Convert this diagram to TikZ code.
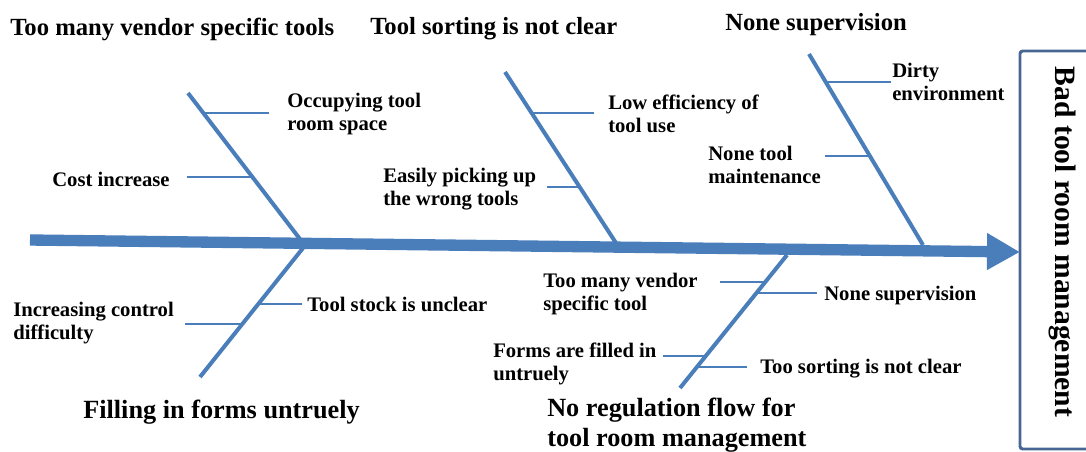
\documentclass[tikz,border=0pt]{standalone}
\usepackage{fontspec}
\setmainfont{Liberation Serif}
\usepackage{tikz}
\usetikzlibrary{arrows.meta, positioning}
\usetikzlibrary{calc}
\usepackage{xcolor}

\definecolor{fishblue}{RGB}{74,126,187}
\definecolor{boxblue}{RGB}{72,102,148}

\begin{document}
\begin{tikzpicture}[
  x=0.75pt, y=-0.75pt,
  spine/.style={draw=fishblue, line width=8.5pt, -{Triangle[length=24.75pt, width=26pt]}},
  bone/.style={draw=fishblue, line width=3pt},
  twig/.style={draw=fishblue, line width=1.4pt},
  cause/.style={font=\fontsize{15.5}{17.3}\selectfont\bfseries, align=left, inner sep=0pt, anchor=west},
  group/.style={font=\fontsize{18.5}{22}\selectfont\bfseries, align=left, inner sep=0pt, anchor=west},
  lowgroup/.style={font=\fontsize{19.7}{22.5}\selectfont\bfseries, align=left, inner sep=0pt, anchor=west},
  effect/.style={draw=boxblue, line width=2.2pt, rounded corners=2pt}
]
\useasboundingbox (0,0) rectangle (1086,451);
\clip (0,0) rectangle (1086,451);

% Spine and effect box
\coordinate (tail) at (30,240);
\coordinate (head) at (1020,252);
\coordinate (boxNW) at (1020,51);
\coordinate (boxSE) at (1110,449);
\node[font=\fontsize{22.2}{26}\selectfont\bfseries, rotate=-90, inner sep=0pt] (E) at (1062,242) {Bad tool room management};

% Bones
\coordinate (b1top) at (188,93);  \coordinate (b1end) at (303,243);
\coordinate (b2top) at (505,72);  \coordinate (b2end) at (616,243);
\coordinate (b3top) at (809,54);  \coordinate (b3end) at (923,245);
\coordinate (b4top) at (303,248); \coordinate (b4end) at (200,377);
\coordinate (b5top) at (787,255); \coordinate (b5end) at (680,388);

% Twig points on the bones
\coordinate (t1a) at ($(b1top)!0.133!(b1end)$); \coordinate (t1b) at ($(t1a)+(66,0)$);
\coordinate (t2a) at ($(b1top)!0.560!(b1end)$); \coordinate (t2b) at ($(t2a)+(-65,0)$);
\coordinate (t3a) at ($(b2top)!0.240!(b2end)$); \coordinate (t3b) at ($(t3a)+(62,0)$);
\coordinate (t4a) at ($(b2top)!0.673!(b2end)$); \coordinate (t4b) at ($(t4a)+(-33,0)$);
\coordinate (t5a) at ($(b3top)!0.147!(b3end)$); \coordinate (t5b) at ($(t5a)+(65,0)$);
\coordinate (t6a) at ($(b3top)!0.534!(b3end)$); \coordinate (t6b) at ($(t6a)+(-45,0)$);
\coordinate (t7a) at ($(b4top)!0.434!(b4end)$); \coordinate (t7b) at ($(t7a)+(44,0)$);
\coordinate (t8a) at ($(b4top)!0.589!(b4end)$); \coordinate (t8b) at ($(t8a)+(-57,0)$);
\coordinate (t9a) at ($(b5top)!0.203!(b5end)$); \coordinate (t9b) at ($(t9a)+(-45,0)$);
\coordinate (t10a) at ($(b5top)!0.286!(b5end)$); \coordinate (t10b) at ($(t10a)+(61,0)$);
\coordinate (t11a) at ($(b5top)!0.759!(b5end)$); \coordinate (t11b) at ($(t11a)+(-43,0)$);
\coordinate (t12a) at ($(b5top)!0.842!(b5end)$); \coordinate (t12b) at ($(t12a)+(50,0)$);

% Group titles
\node[group] (g1) at (10,29) {Too many vendor specific tools};
\node[group] (g2) at (370,29) {Tool sorting is not clear};
\node[group] (g3) at (725,25) {None supervision};
\node[lowgroup] (g4) at (83,412) {Filling in forms untruely};
\node[lowgroup] (g5) at (547,425) {No regulation flow for\\tool room management};

% Causes
\node[cause] (occ) at (287,114) {Occupying tool\\room space};
\node[cause] (cost) at (52,179) {Cost increase};
\node[cause] (loweff) at (608,114) {Low efficiency of\\tool use};
\node[cause] (easily) at (383,189) {Easily picking up\\the wrong tools};
\node[cause] (dirty) at (892,82) {Dirty\\environment};
\node[cause] (nonetool) at (708,165) {None tool\\maintenance};
\node[cause] (stock) at (307,304) {Tool stock is unclear};
\node[cause] (incr) at (13,323) {Increasing control\\difficulty};
\node[cause] (vendor) at (543,294) {Too many vendor\\specific tool};
\node[cause] (nsup) at (824,296) {None supervision};
\node[cause] (forms) at (493,364) {Forms are filled in\\untruely};
\node[cause] (sorting) at (760,369) {Too sorting is not clear};

% Connections
\draw[effect] (boxNW) rectangle (boxSE);

\draw[bone] (b1top) -- (b1end);
\draw[bone] (b2top) -- (b2end);
\draw[bone] (b3top) -- (b3end);
\draw[bone] (b4top) -- (b4end);
\draw[bone] (b5top) -- (b5end);

\draw[spine] (tail) -- (head);

\draw[twig] (t1a) -- (t1b);
\draw[twig] (t2a) -- (t2b);
\draw[twig] (t3a) -- (t3b);
\draw[twig] (t4a) -- (t4b);
\draw[twig] (t5a) -- (t5b);
\draw[twig] (t6a) -- (t6b);
\draw[twig] (t7a) -- (t7b);
\draw[twig] (t8a) -- (t8b);
\draw[twig] (t9a) -- (t9b);
\draw[twig] (t10a) -- (t10b);
\draw[twig] (t11a) -- (t11b);
\draw[twig] (t12a) -- (t12b);

\end{tikzpicture}
\end{document}
